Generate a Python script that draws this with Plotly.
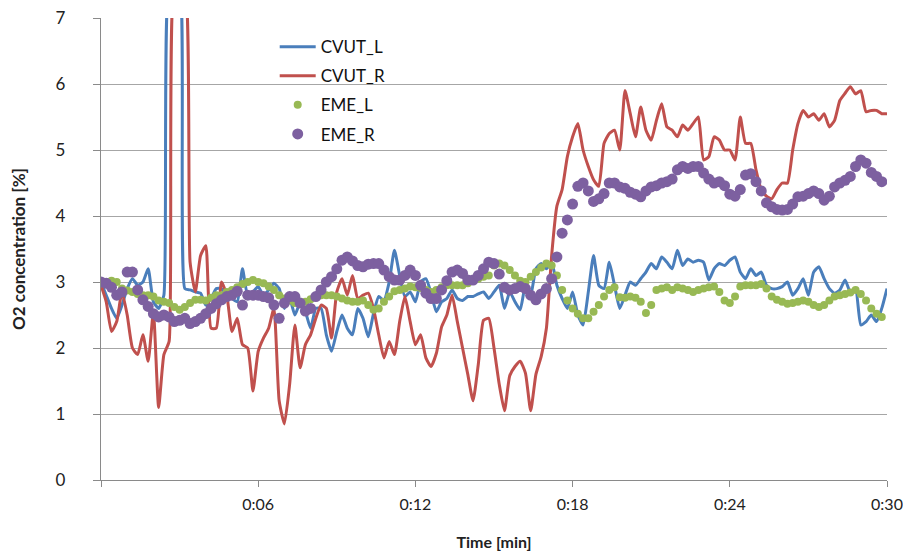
import plotly.graph_objects as go

# time axis: minutes, 0.2-min steps
n_points = 151
time_min = [round(0.2 * i, 1) for i in range(n_points)]

x_tick_vals = [0, 6, 12, 18, 24, 30]
x_tick_text = ["", "0:06", "0:12", "0:18", "0:24", "0:30"]

cvut_l = [
    3.0, 2.8, 2.6, 2.45, 2.65, 2.9, 3.05, 2.95, 3.0, 3.2,
    2.7, 2.6, 2.8, 7.5, 7.5, 7.5, 2.9, 2.88, 2.85, 2.83,
    2.65, 2.75, 2.9, 2.9, 2.8, 2.75, 2.7, 3.2, 2.8, 2.85,
    2.93, 2.8, 2.88, 2.98, 2.9, 2.6, 2.75, 2.5, 2.68, 2.55,
    2.3, 2.6, 2.6, 2.2, 1.95, 2.25, 2.5, 2.3, 2.2, 2.6,
    2.45, 2.17, 2.52, 2.78, 2.72, 3.0, 3.48, 3.1, 2.78, 2.85,
    2.7, 3.0, 3.05, 2.83, 2.55, 2.7, 2.75, 2.88, 2.75, 2.72,
    2.78, 2.78, 2.82, 2.85, 2.75, 2.85, 2.95, 2.6, 2.85, 2.7,
    2.58, 2.95, 2.8, 3.2, 3.28, 3.2, 3.3, 2.95, 2.75, 2.6,
    2.85, 2.5, 2.35, 2.85, 3.4, 2.95, 2.9, 3.3, 2.95, 2.6,
    2.8, 3.0, 2.95, 3.05, 3.15, 3.28, 3.2, 3.38, 3.3, 3.2,
    3.48, 3.25, 3.35, 3.3, 3.33, 3.3, 3.03, 3.2, 3.28, 3.25,
    3.33, 3.38, 3.15, 3.05, 3.2, 3.1, 3.15, 2.95, 2.9, 2.9,
    2.93, 3.0, 2.8, 2.9, 3.05, 2.8, 3.15, 3.23, 3.05, 2.9,
    2.83, 2.88, 3.03, 2.85, 2.9, 2.35, 2.4, 2.5, 2.4, 2.6,
    2.9,
]

cvut_r = [
    2.95, 2.7, 2.25, 2.4, 2.85, 2.5, 2.0, 1.9, 2.2, 1.8,
    2.55, 1.1, 1.9, 2.1, 7.5, 7.5, 7.5, 3.3, 2.85, 3.4,
    3.55, 2.3, 2.3, 3.0, 2.8, 2.25, 2.45, 2.05, 2.0, 1.35,
    1.95, 2.15, 2.3, 2.6, 1.2, 0.85, 1.45, 2.35, 1.7, 2.05,
    2.2, 2.45, 2.65, 2.6, 2.15, 2.85, 3.05, 2.8, 3.1, 2.75,
    2.8, 2.83, 2.6, 2.2, 1.85, 2.1, 1.9, 2.4, 2.78, 2.4,
    2.05, 2.2, 1.85, 1.72, 1.92, 2.32, 2.5, 2.8, 2.4, 2.0,
    1.6, 1.2, 1.75, 2.42, 2.45, 2.0, 1.45, 1.05, 1.58, 1.72,
    1.8, 1.62, 1.05, 1.6, 1.87, 2.3, 3.4, 4.15, 4.4, 4.9,
    5.2, 5.4, 5.0, 4.75, 4.55, 4.45, 5.1, 5.25, 5.3, 5.0,
    5.9, 5.55, 5.2, 5.65, 5.3, 5.15, 5.45, 5.7, 5.35, 5.3,
    5.2, 5.38, 5.3, 5.4, 5.5, 4.85, 4.9, 5.2, 5.15, 5.0,
    5.0, 4.85, 5.5, 5.1, 5.1, 4.7, 4.4, 4.3, 4.26, 4.4,
    4.5, 4.5, 5.0, 5.4, 5.6, 5.5, 5.55, 5.45, 5.55, 5.35,
    5.45, 5.75, 5.86, 5.96, 5.85, 5.9, 5.58, 5.6, 5.6, 5.55,
    5.55,
]

eme_l = [
    2.98, 3.0, 3.02, 3.0, 2.9, 2.87, 2.85, 2.82, 2.8, 2.8,
    2.78, 2.72, 2.7, 2.68, 2.62, 2.58, 2.62, 2.68, 2.73, 2.73,
    2.72, 2.76, 2.8, 2.8, 2.85, 2.88, 2.92, 2.97, 3.0, 3.03,
    3.0, 2.98, 2.93, 2.88, 2.8, 2.75, 2.72, 2.68, 2.68, 2.7,
    2.74, 2.77, 2.8, 2.8, 2.8, 2.78, 2.75, 2.72, 2.7, 2.7,
    2.72, 2.65, 2.58, 2.6, 2.7, 2.78, 2.86, 2.88, 2.9, 2.93,
    2.92, 2.91, 2.88, 2.85, 2.88, 2.92, 2.95, 2.95, 2.95, 2.95,
    2.98, 3.02, 3.05, 3.08, 3.1, 3.25, 3.28, 3.25, 3.18, 3.1,
    3.02, 3.0, 3.08, 3.15, 3.22, 3.28, 3.25, 3.1, 2.88, 2.72,
    2.6, 2.52, 2.45, 2.45, 2.55, 2.65, 2.78, 2.88, 2.92, 2.77,
    2.76, 2.78, 2.76, 2.7, 2.53, 2.65, 2.88, 2.9, 2.92, 2.88,
    2.92, 2.9, 2.88, 2.85, 2.88, 2.9, 2.92, 2.93, 2.85, 2.72,
    2.68, 2.78, 2.93, 2.95, 2.95, 2.95, 2.97, 2.9, 2.78, 2.73,
    2.7, 2.67, 2.68, 2.7, 2.72, 2.7, 2.65, 2.62, 2.65, 2.72,
    2.78, 2.8, 2.82, 2.84, 2.88, 2.82, 2.72, 2.6, 2.52, 2.47,
    None,
]

eme_r = [
    3.0, 2.98, 2.92, 2.8, 2.85, 3.15, 3.15, 2.88, 2.73, 2.63,
    2.52, 2.47, 2.5, 2.47, 2.4, 2.42, 2.45, 2.37, 2.4, 2.45,
    2.52, 2.6, 2.67, 2.73, 2.78, 2.8, 2.86, 2.65, 2.8, 2.8,
    2.8, 2.78, 2.76, 2.65, 2.45, 2.68, 2.78, 2.78, 2.68, 2.56,
    2.6, 2.78, 2.88, 3.0, 3.08, 3.2, 3.33, 3.38, 3.32, 3.25,
    3.23, 3.27, 3.28, 3.28, 3.18, 3.08, 3.03, 3.03, 3.1, 3.18,
    3.1, 2.95, 2.83, 2.75, 2.75, 2.88, 3.02, 3.15, 3.18, 3.13,
    3.03, 3.03, 3.1, 3.2, 3.3, 3.28, 3.12, 2.92, 2.88, 2.9,
    2.93, 2.9, 2.8, 2.73, 2.82, 2.9, 3.05, 3.38, 3.74, 3.94,
    4.18, 4.45, 4.5, 4.38, 4.22, 4.26, 4.34, 4.5, 4.5, 4.44,
    4.42, 4.36, 4.33, 4.29, 4.38, 4.44, 4.46, 4.5, 4.52, 4.56,
    4.7, 4.75, 4.72, 4.75, 4.75, 4.65, 4.56, 4.5, 4.52, 4.46,
    4.33, 4.3, 4.4, 4.62, 4.64, 4.52, 4.38, 4.2, 4.14, 4.1,
    4.09, 4.1, 4.18, 4.29, 4.3, 4.34, 4.38, 4.34, 4.24, 4.3,
    4.44, 4.5, 4.54, 4.6, 4.75, 4.85, 4.8, 4.66, 4.6, 4.52,
    None,
]

BLUE = "#4A7EBB"
RED = "#C0504D"
GREEN = "#98B954"
PURPLE = "#7D60A0"
FONT = "Lato, 'Open Sans', sans-serif"

fig = go.Figure()
fig.add_trace(go.Scatter(x=time_min, y=cvut_l, mode="lines", name="CVUT_L",
                         line=dict(color=BLUE, width=3, shape="spline", smoothing=0.5),
                         legendgroup="a"))
fig.add_trace(go.Scatter(x=time_min, y=cvut_r, mode="lines", name="CVUT_R",
                         line=dict(color=RED, width=3, shape="spline", smoothing=0.5),
                         legendgroup="b"))
fig.add_trace(go.Scatter(x=time_min, y=eme_l, mode="markers", name="EME_L",
                         marker=dict(color=GREEN, size=8), legendgroup="c"))
fig.add_trace(go.Scatter(x=time_min, y=eme_r, mode="markers", name="EME_R",
                         marker=dict(color=PURPLE, size=11), legendgroup="d"))

# page body has an 8px margin, so the figure is 903x545 and offset by 8px
fig.update_layout(
    width=903, height=545,
    margin=dict(l=93, r=24, t=10, b=73, autoexpand=False),
    paper_bgcolor="white", plot_bgcolor="white",
    font=dict(family=FONT, size=16, color="#222222"),
    showlegend=True,
    legend=dict(x=0.221, y=0.976, xanchor="left", yanchor="top",
                bgcolor="rgba(0,0,0,0)", font=dict(size=17, color="#111111"),
                tracegroupgap=4, itemwidth=36),
    xaxis=dict(range=[0, 30], tickvals=x_tick_vals, ticktext=x_tick_text,
               showgrid=False, zeroline=False, showline=True, automargin=False,
               linecolor="#8a8a8a", linewidth=1.3, ticks="outside",
               ticklen=6, tickcolor="#8a8a8a", ticklabelstandoff=4,
               ticklabeloverflow="allow",
               tickfont=dict(size=16, color="#222222"),
               title=dict(text="<b>Time [min]</b>", font=dict(size=16, color="#222222"),
                          standoff=24)),
    yaxis=dict(range=[0, 7], dtick=1, showgrid=True, gridcolor="#a6a6a6",
               gridwidth=1.3, zeroline=False, showline=True, automargin=False,
               linecolor="#8a8a8a", linewidth=1.3, ticks="outside",
               ticklen=7, tickcolor="#8a8a8a", ticklabelstandoff=24,
               ticklabeloverflow="allow",
               tickfont=dict(size=17, color="#222222"),
               title=dict(text="<b>O2 concentration [%]</b>",
                          font=dict(size=17, color="#222222"), standoff=40)),
)

fig.write_html("out.html")
